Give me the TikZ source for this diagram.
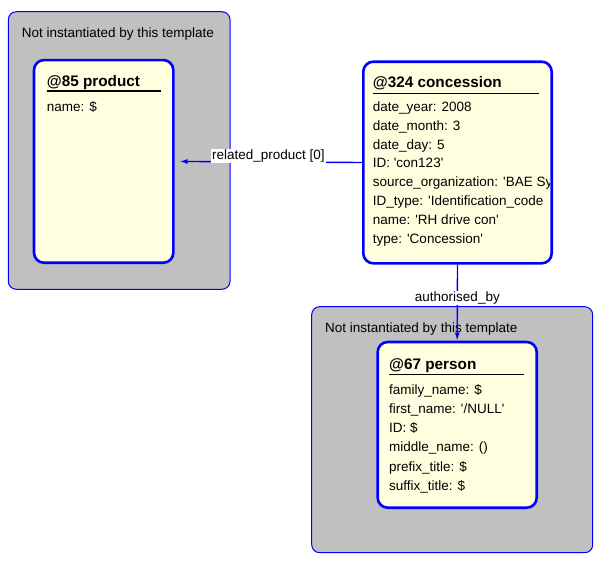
\documentclass[tikz,border=0pt]{standalone}
\usepackage{fontspec}
\newfontfamily\uifont{Liberation Sans}
\usetikzlibrary{arrows.meta}

\definecolor{grpgray}{RGB}{192,192,192}
\definecolor{boxyellow}{RGB}{255,255,224}
\definecolor{linkblue}{RGB}{0,0,255}

\tikzstyle{group} = [draw=linkblue, line width=1pt, fill=grpgray, rounded corners=8pt, inner sep=0pt]
\tikzstyle{entity} = [draw=linkblue, line width=2.6pt, fill=boxyellow, rounded corners=10pt, inner sep=0pt]
\tikzstyle{link} = [draw=linkblue, line width=1.4pt, -{Latex[length=8pt,width=5pt]}]
\tikzstyle{linklabel} = [fill=white, inner sep=1pt, font=\uifont\fontsize{13.5}{16}\selectfont]
\tikzstyle{grouptitle} = [anchor=base west, inner sep=0pt, font=\uifont\fontsize{13.5}{16}\selectfont]
\tikzstyle{title} = [anchor=base west, inner sep=0pt, font=\uifont\fontsize{15.3}{18}\selectfont\bfseries]
\tikzstyle{field} = [anchor=base west, inner sep=0pt, font=\uifont\fontsize{13.5}{16}\selectfont]
\tikzstyle{rule} = [draw, line width=1.2pt]

\begin{document}
\begin{tikzpicture}[x=1pt,y=-1pt]
\useasboundingbox (0,0) rectangle (615,571);
%groups
\node[group, minimum width=221.7pt, minimum height=277.6pt] (grpproduct) at (119.15,150.5) {};
\node[group, minimum width=281pt, minimum height=246pt] (grpperson) at (452.2,429.7) {};
\node[grouptitle] (grpproducttitle) at (21.7,37.8) {Not instantiated by this template};
\node[grouptitle] (grppersontitle) at (325,332.8) {Not instantiated by this template};

%entities
\node[entity, minimum width=139.3pt, minimum height=202.7pt] (product) at (103.65,161.4) {};
\node[entity, minimum width=188.4pt, minimum height=201.6pt] (concession) at (457.5,162.5) {};
\node[entity, minimum width=159pt, minimum height=165.7pt] (person) at (457.2,424.85) {};

%product
\node[title] (ptitle) at (46.7,86.5) {@85 product};
\path[rule] (46.7,90.9) -- (161,90.9);
\node[field] (p1) at (46.7,111.5) {name: \$};

%concession
\node[title] (ctitle) at (372.7,87) {@324 concession};
\path[rule] (372.7,93.3) -- (539,93.3);
\begin{scope}
\clip (363,60) rectangle (549.5,265);
\node[field] (c1) at (372.7,111.5) {date\_year: 2008};
\node[field] (c2) at (372.7,130.3) {date\_month: 3};
\node[field] (c3) at (372.7,149.1) {date\_day: 5};
\node[field] (c4) at (372.7,167.9) {ID: 'con123'};
\node[field] (c5) at (372.7,186.7) {source\_organization: 'BAE Sy};
\node[field] (c6) at (372.7,205.5) {ID\_type: 'Identification\_code};
\node[field] (c7) at (372.7,224.3) {name: 'RH drive con'};
\node[field] (c8) at (372.7,243.1) {type: 'Concession'};
\end{scope}

%person
\node[title] (stitle) at (389,369.5) {@67 person};
\path[rule] (389,374.3) -- (524,374.3);
\node[field] (s1) at (389,394) {family\_name: \$};
\node[field] (s2) at (389,413.3) {first\_name: '/NULL'};
\node[field] (s3) at (389,432.6) {ID: \$};
\node[field] (s4) at (389,451.9) {middle\_name: ()};
\node[field] (s5) at (389,471.2) {prefix\_title: \$};
\node[field] (s6) at (389,490.5) {suffix\_title: \$};

%links
\draw[link, shorten >=5pt] (concession.west) -- node[linklabel, anchor=south, yshift=-2pt]{related\_product [0]} (product.east);
\draw[link] (concession.south) -- node[linklabel, pos=0.44]{authorised\_by} (person.north);
\end{tikzpicture}
\end{document}
